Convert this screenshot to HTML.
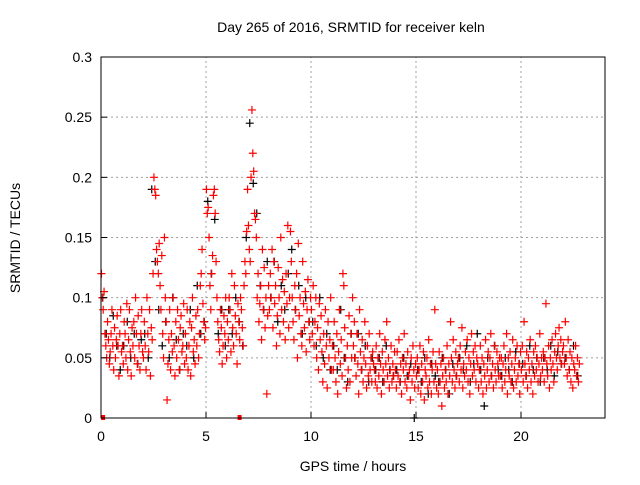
<!DOCTYPE html>
<html><head><meta charset="utf-8"><style>
body{margin:0;background:#fff}
svg text{font-family:"Liberation Sans",sans-serif;font-size:14px;fill:#000}
</style></head><body>
<svg id="c" width="640" height="480" xmlns="http://www.w3.org/2000/svg">
<rect width="640" height="480" fill="#fff"/>
<text x="351" y="32" text-anchor="middle">Day 265 of 2016, SRMTID for receiver keln</text>
<text x="353" y="471" text-anchor="middle">GPS time / hours</text>
<text x="0" y="0" text-anchor="middle" transform="translate(20,238) rotate(-90)">SRMTID / TECUs</text>
<g id="grid"></g><g id="black"></g><g id="red"></g><g id="axes"></g>
</svg>
<script>
const xTicks=[0,5,10,15,20];
const yTicks=[0,0.05,0.1,0.15,0.2,0.25,0.3];
const yTickLabels=["0","0.05","0.1","0.15","0.2","0.25","0.3"];
// red values per hour (spread evenly within each hour)
const redHours=[
[0.12,0.1,0.09,0.105,0.07,0.06,0.05,0.08,0.065,0.045,0.055,0.07,0.09,0.06,0.04,0.075,0.05,0.065,0.085,0.06,0.035,0.07,0.09,0.055],
[0.06,0.045,0.08,0.07,0.05,0.095,0.04,0.065,0.09,0.055,0.035,0.075,0.06,0.08,0.05,0.1,0.07,0.045,0.085,0.06,0.04,0.07,0.09,0.055],
[0.05,0.08,0.06,0.04,0.1,0.07,0.055,0.09,0.035,0.075,0.065,0.12,0.2,0.19,0.185,0.14,0.13,0.12,0.145,0.11,0.09,0.135,0.07,0.05],
[0.15,0.1,0.08,0.015,0.045,0.065,0.09,0.04,0.07,0.055,0.1,0.06,0.035,0.08,0.05,0.09,0.065,0.04,0.075,0.085,0.055,0.06,0.095,0.045],
[0.07,0.05,0.09,0.04,0.06,0.08,0.035,0.075,0.1,0.055,0.065,0.045,0.085,0.06,0.09,0.05,0.07,0.11,0.12,0.14,0.095,0.08,0.065,0.075],
[0.19,0.17,0.175,0.15,0.11,0.09,0.12,0.135,0.185,0.19,0.17,0.13,0.1,0.08,0.065,0.055,0.09,0.075,0.045,0.06,0.085,0.07,0.1,0.05],
[0.08,0.065,0.1,0.09,0.055,0.12,0.075,0.06,0.11,0.085,0.07,0.045,0.095,0.08,0.065,0.1,0.09,0.075,0.06,0.11,0.13,0.12,0.155,0.19],
[0.16,0.14,0.13,0.2,0.256,0.22,0.205,0.17,0.165,0.15,0.1,0.12,0.08,0.095,0.11,0.065,0.14,0.09,0.125,0.075,0.1,0.02,0.085,0.11],
[0.09,0.12,0.1,0.14,0.075,0.13,0.095,0.11,0.06,0.085,0.125,0.1,0.07,0.15,0.09,0.115,0.08,0.105,0.065,0.12,0.095,0.16,0.075,0.1],
[0.155,0.13,0.1,0.08,0.065,0.11,0.09,0.12,0.05,0.145,0.085,0.1,0.07,0.06,0.13,0.095,0.075,0.105,0.055,0.09,0.115,0.08,0.065,0.1],
[0.09,0.07,0.11,0.06,0.08,0.1,0.05,0.075,0.04,0.095,0.065,0.085,0.055,0.03,0.07,0.045,0.09,0.06,0.025,0.08,0.05,0.065,0.1,0.04],
[0.06,0.04,0.08,0.05,0.03,0.07,0.02,0.055,0.09,0.045,0.065,0.035,0.12,0.11,0.075,0.05,0.025,0.06,0.04,0.085,0.03,0.07,0.05,0.1],
[0.06,0.08,0.05,0.035,0.07,0.045,0.02,0.09,0.055,0.04,0.065,0.03,0.05,0.08,0.045,0.025,0.06,0.035,0.07,0.04,0.05,0.03,0.055,0.045],
[0.04,0.03,0.06,0.025,0.05,0.035,0.07,0.045,0.02,0.055,0.04,0.03,0.065,0.045,0.08,0.035,0.05,0.025,0.04,0.06,0.03,0.045,0.035,0.055],
[0.04,0.025,0.055,0.035,0.065,0.03,0.045,0.02,0.05,0.04,0.07,0.03,0.045,0.025,0.055,0.035,0.04,0.015,0.05,0.03,0.06,0.04,0.025,0.045],
[0.035,0.05,0.025,0.04,0.06,0.02,0.045,0.03,0.055,0.015,0.04,0.035,0.05,0.025,0.065,0.03,0.045,0.02,0.04,0.055,0.03,0.09,0.045,0.025],
[0.04,0.02,0.055,0.03,0.045,0.01,0.035,0.05,0.025,0.04,0.03,0.06,0.02,0.045,0.035,0.08,0.05,0.03,0.065,0.04,0.025,0.055,0.035,0.045],
[0.05,0.03,0.06,0.04,0.075,0.025,0.045,0.035,0.055,0.04,0.065,0.03,0.05,0.02,0.045,0.07,0.035,0.055,0.04,0.06,0.03,0.05,0.045,0.025],
[0.04,0.06,0.03,0.05,0.02,0.045,0.035,0.065,0.025,0.04,0.055,0.03,0.05,0.07,0.035,0.045,0.025,0.06,0.04,0.03,0.055,0.045,0.035,0.05],
[0.035,0.05,0.025,0.045,0.06,0.03,0.04,0.07,0.02,0.05,0.035,0.055,0.03,0.045,0.065,0.025,0.04,0.05,0.03,0.06,0.035,0.045,0.02,0.055],
[0.04,0.06,0.03,0.08,0.045,0.035,0.055,0.025,0.05,0.04,0.065,0.03,0.045,0.02,0.055,0.035,0.06,0.04,0.05,0.03,0.045,0.07,0.035,0.05],
[0.04,0.055,0.03,0.05,0.095,0.045,0.035,0.06,0.025,0.05,0.04,0.065,0.045,0.03,0.055,0.07,0.05,0.04,0.06,0.075,0.05,0.065,0.045,0.055],
[0.06,0.045,0.08,0.05,0.035,0.065,0.04,0.055,0.03,0.05,0.025,0.045,0.04,0.06,0.035,0.05,0.03,0.045]
];
// black values per hour
const blackHours=[
[0.1,0.07,0.05,0.085,0.06,0.04],[0.06,0.08,0.05,0.07,0.045,0.065],[0.07,0.05,0.19,0.13,0.09,0.06],
[0.08,0.05,0.1,0.065,0.04,0.07],[0.06,0.09,0.05,0.11,0.07,0.08],[0.18,0.12,0.165,0.07,0.09,0.06],
[0.09,0.07,0.1,0.08,0.06,0.15],[0.245,0.195,0.17,0.11,0.09,0.13],[0.1,0.13,0.08,0.11,0.09,0.12],
[0.14,0.09,0.11,0.07,0.1,0.08],[0.08,0.06,0.1,0.05,0.07,0.04],[0.06,0.04,0.09,0.05,0.03,0.07],
[0.05,0.07,0.04,0.06,0.03,0.05],[0.04,0.05,0.03,0.06,0.04,0.035],[0.04,0.03,0.05,0.035,0.045,0.0],
[0.04,0.03,0.05,0.02,0.045,0.035],[0.03,0.05,0.04,0.02,0.045,0.035],[0.05,0.04,0.06,0.03,0.045,0.07],
[0.04,0.01,0.05,0.035,0.06,0.04],[0.035,0.05,0.04,0.03,0.055,0.045],[0.045,0.035,0.06,0.04,0.05,0.03],
[0.05,0.04,0.06,0.035,0.055,0.045],[0.05,0.04,0.06,0.035]
];
const zeroRed=[0.1,6.6];
const x0=101,x1=605,y0=418,y1=57,xMax=24,yMax=0.3;
const X=v=>x0+(v/xMax)*(x1-x0), Y=v=>y0-(v/yMax)*(y0-y1);
const NS="http://www.w3.org/2000/svg";
function mk(tag,attrs,parent){const e=document.createElementNS(NS,tag);for(const k in attrs)e.setAttribute(k,attrs[k]);parent.appendChild(e);return e;}
const grid=document.getElementById('grid'),axes=document.getElementById('axes');
xTicks.forEach(t=>{if(t>0){const l=mk('line',{x1:X(t),x2:X(t),y1:y0,y2:y1,stroke:'#a0a0a0','stroke-dasharray':'2,3'},grid);}
 const tk=mk('line',{x1:X(t),x2:X(t),y1:y0,y2:y0-6,stroke:'#000'},axes);
 const tx=mk('text',{x:X(t),y:y0+23,'text-anchor':'middle'},axes);tx.textContent=t;});
yTicks.forEach((t,i)=>{if(t>0&&t<yMax){const l=mk('line',{x1:x0,x2:x1,y1:Y(t),y2:Y(t),stroke:'#a0a0a0','stroke-dasharray':'2,3'},grid);}
 const tk=mk('line',{x1:x0,x2:x0+6,y1:Y(t),y2:Y(t),stroke:'#000'},axes);
 const tx=mk('text',{x:x0-9,y:Y(t)+5,'text-anchor':'end'},axes);tx.textContent=yTickLabels[i];});
const fr=mk('rect',{x:x0,y:y1,width:x1-x0,height:y0-y1,fill:'none',stroke:'#000'},axes);

function plus(g,x,y,col,name){const p=mk('path',{d:`M${x-4},${y}h8M${x},${y-4}v8`,stroke:col,'stroke-width':1.2,fill:'none'},g);}
function series(arr,gid,col,name){const g=document.getElementById(gid);arr.forEach((vals,h)=>{const span=h===22?0.8:1;vals.forEach((v,i)=>plus(g,X(h+span*(i+0.5)/vals.length),Y(v),col,name));});}
series(blackHours,'black','#000','black-point');
series(redHours,'red','#f00','red-point');
zeroRed.forEach(t=>{const r=mk('rect',{x:X(t)-2,y:y0-3,width:4,height:5,fill:'#f00'},document.getElementById('red'));});
</script>
</body></html>
